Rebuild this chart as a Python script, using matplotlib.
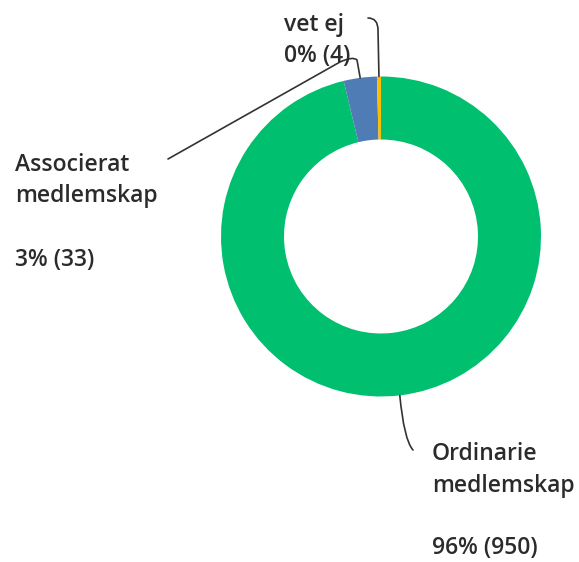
import numpy as np
import matplotlib
matplotlib.use("Agg")
import matplotlib.pyplot as plt
from matplotlib.path import Path
from matplotlib.patches import PathPatch

# data
labels = ["Ordinarie\nmedlemskap", "Associerat\nmedlemskap", "vet ej"]
counts = [950, 33, 4]
pct_text = ["96% (950)", "3% (33)", "0% (4)"]
colors = ["#00BF6F", "#507CB6", "#F9BE00"]

W, H = 579, 562
fig = plt.figure(figsize=(W / 100, H / 100), dpi=100)
ax = fig.add_axes([0, 0, 1, 1])

cx, cy, R = 381, H - 236.5, 160
wedges, _ = ax.pie(counts, colors=colors, startangle=90, counterclock=False,
                   radius=R, center=(cx, cy), frame=True,
                   wedgeprops=dict(width=63, linewidth=0))
ax.set_xlim(0, W)
ax.set_ylim(0, H)
ax.axis("off")

def anchor(w):
    a = np.deg2rad((w.theta1 + w.theta2) / 2)
    return cx + R * np.cos(a), cy + R * np.sin(a)

def leader(pts, codes):
    ax.add_patch(PathPatch(Path(pts, codes), fill=False, lw=1.2,
                           ec="#333333", capstyle="round"))

# leader lines (points given in image pixels, y flipped)
f = lambda x, y: (x, H - y)
x0, y0 = anchor(wedges[0])
leader([(x0, y0), f(404, 440), f(413, 450)],
       [Path.MOVETO, Path.CURVE3, Path.CURVE3])
x1, y1 = anchor(wedges[1])
leader([(x1, y1), f(357, 60), f(353, 56), f(340, 62), f(168, 159)],
       [Path.MOVETO, Path.LINETO, Path.CURVE3, Path.CURVE3, Path.LINETO])
x2, y2 = anchor(wedges[2])
leader([(x2, y2), f(378, 30), f(378, 18), f(368, 18)],
       [Path.MOVETO, Path.LINETO, Path.CURVE3, Path.CURVE3])

font = dict(family=["Open Sans", "DejaVu Sans"], fontsize=16.5,
            fontweight="semibold", color="#2b2b2b")
step = 31.5

def label(x, ybase, lines):
    for i, t in enumerate(lines):
        if t:
            ax.text(x, H - (ybase + i * step), t, ha="left", va="baseline", **font)

label(432, 460, labels[0].split("\n") + ["", pct_text[0]])
label(15, 171, labels[1].split("\n") + ["", pct_text[1]])
label(284, 31, [labels[2], pct_text[2]])

fig.savefig("out.png", dpi=100)
